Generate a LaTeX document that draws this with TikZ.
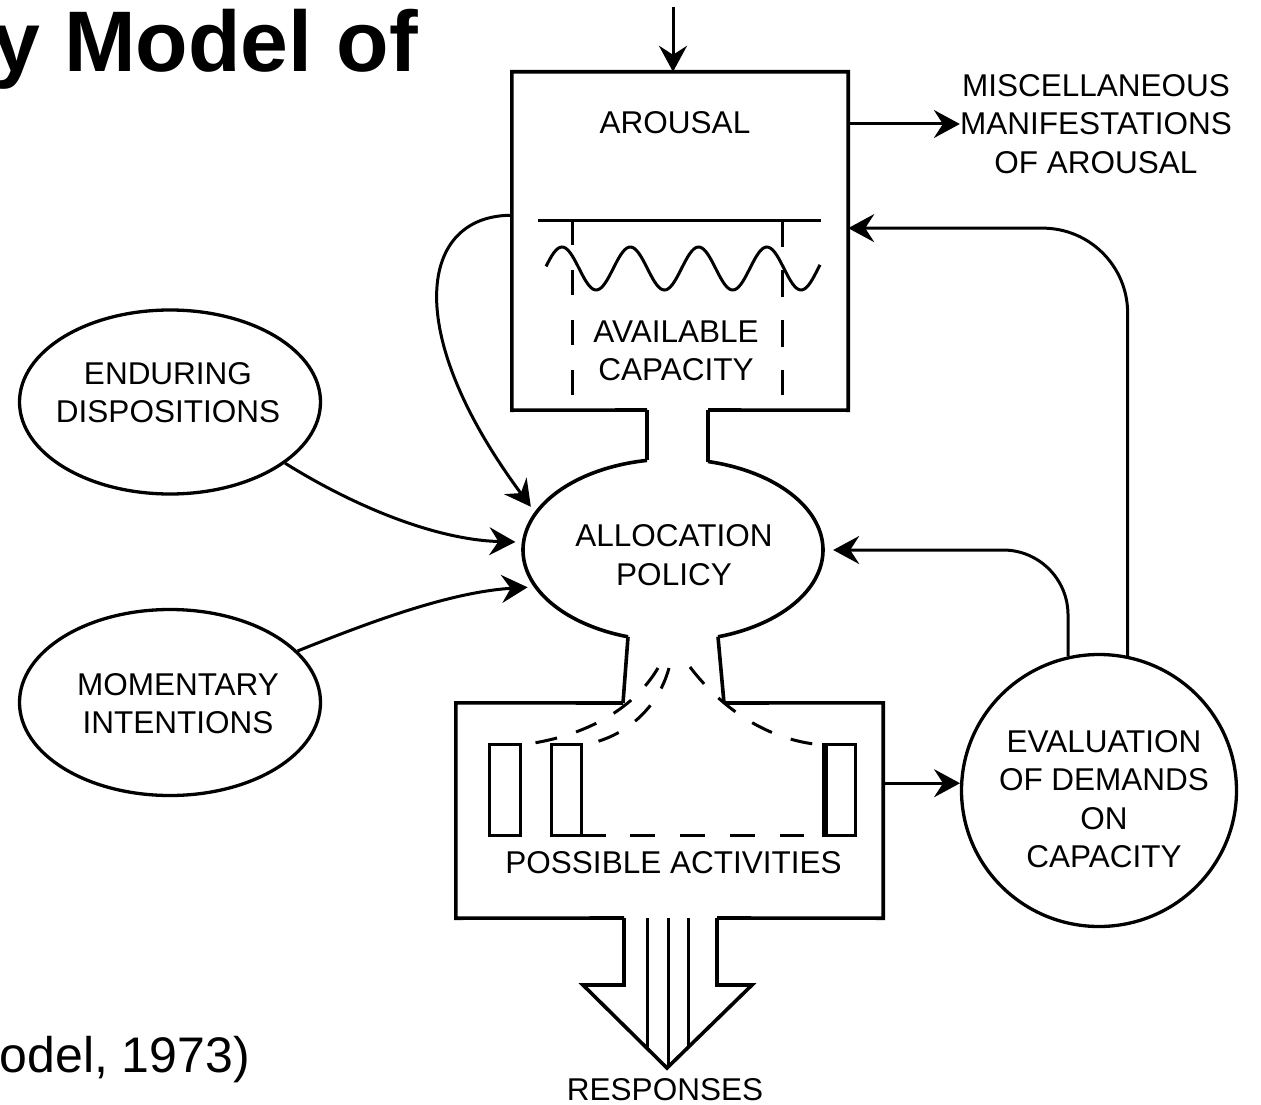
\documentclass[tikz,border=0pt]{standalone}
\usepackage{fontspec}
\setmainfont{Liberation Sans}
\usetikzlibrary{arrows.meta,shapes.geometric,calc}
\newcommand\lblsize{\fontsize{31.5}{38.5}\selectfont}
\begin{document}
\begin{tikzpicture}[x=1pt,y=-1pt,
  lw/.style={line width=3pt},
  boxline/.style={line width=3.6pt, line join=miter},
  ell/.style={draw, ellipse, line width=3.3pt, inner sep=0pt},
  lbl/.style={font=\lblsize, align=center, inner sep=0pt},
  arr/.style={line width=3pt, -{Stealth[length=26pt,width=28pt,inset=9pt]}},
  dsh/.style={line width=3pt, dash pattern=on 22pt off 20pt},
]
\useasboundingbox (0,0) rectangle (1261,1105);
\fill[white] (0,0) rectangle (1261,1105);

% texts outside the diagram
\node[font=\bfseries\fontsize{86}{90}\selectfont, anchor=base east, inner sep=0pt] (title) at (418,72) {y Model of};
\node[font=\fontsize{50}{56}\selectfont, anchor=base east, inner sep=0pt] (cite) at (250,1072) {Model, 1973)};

% arousal box
\node[minimum width=336pt, minimum height=338pt, inner sep=0pt] (arousal) at (680,241) {};
\draw[boxline] (647,410) -- (arousal.south west) -- (arousal.north west) -- (arousal.north east) -- (arousal.south east) -- (708,410);
\node[lbl] (arousaltxt) at (675,122.5) {AROUSAL};
\draw[lw] (538,220) -- (821,220);
\draw[lw, dash pattern=on 25pt off 25pt] (572,220) -- (572,395);
\draw[lw, dash pattern=on 27pt off 23pt] (782,220) -- (782,395);
\draw[lw] plot[domain=546:820, samples=140] (\x, {268.5-21.5*cos(5.2709*(\x-562))});
\node[lbl] (avail) at (676,351) {AVAILABLE\\CAPACITY};

% allocation policy
\node[ellipse, minimum width=300pt, minimum height=182pt, inner sep=0pt] (alloc) at (673,550) {};
\draw[boxline] (647,410) -- (647,460.4);
\draw[boxline] (708,410) -- (708,461.5);
\draw[boxline] plot[domain=107.46:260.02, samples=90] ({673+150*cos(\x)}, {550+91*sin(\x)});
\draw[boxline] plot[domain=-76.5:72.54, samples=90] ({673+150*cos(\x)}, {550+91*sin(\x)});
\draw[boxline] (628,636.8) -- (623,703);
\draw[boxline] (718,636.8) -- (724,703);
\node[lbl] (alloctxt) at (674,555) {ALLOCATION\\POLICY};

% possible activities
\node[minimum width=427pt, minimum height=215pt, inner sep=0pt] (act) at (669.5,810.5) {};
\draw[boxline] (623,703) -- (act.north west) -- (act.south west) -- (624,918);
\draw[boxline] (724,703) -- (act.north east) -- (act.south east) -- (717,918);
\draw[boxline] (624,918) -- (624,985) -- (583,985) -- (667,1068) -- (752,985) -- (717,985) -- (717,918);
\draw[lw] (647,918) -- (647,1047);
\draw[lw] (668,918) -- (668,1066);
\draw[lw] (688,918) -- (688,1046);
\draw[lw] (489,744) rectangle (520,835);
\draw[lw] (551,744) rectangle (581,835);
\draw[lw] (581,835) -- (606,835);
\draw[lw, dash pattern=on 25pt off 25pt] (630,835) -- (804,835);
\draw[lw] (823,744) rectangle (855,835);
\draw[line width=5pt] (825,744) -- (825,835);
\draw[dsh] (658,668) .. controls (632,712) and (580,738) .. (520,745);
\draw[dsh] (669,668) .. controls (657,712) and (620,740) .. (581,745);
\draw[dsh] (690,667) .. controls (715,700) and (760,740) .. (823,745);
\node[lbl] (acttxt) at (673.5,863) {POSSIBLE ACTIVITIES};
\node[lbl] (resp) at (665,1090) {RESPONSES};

% left ellipses
\node[ell, minimum width=301pt, minimum height=184pt] (endur) at (170,402) {};
\node[lbl] (endurtxt) at (168,392.5) {ENDURING\\DISPOSITIONS};
\node[ell, minimum width=301pt, minimum height=186pt] (moment) at (170,702.5) {};
\node[lbl] (momtxt) at (178,703.5) {MOMENTARY\\INTENTIONS};

% evaluation
\node[ell, minimum width=275pt, minimum height=272pt] (eval) at (1099,790.5) {};
\node[lbl] (evaltxt) at (1104,799) {EVALUATION\\OF DEMANDS\\ON\\CAPACITY};

% miscellaneous
\node[lbl] (misc) at (1096,124) {MISCELLANEOUS\\MANIFESTATIONS\\OF AROUSAL};

% connectors
\coordinate (topin) at (673,7);
\draw[arr] (topin) -- (topin |- arousal.north);
\draw[arr] (arousal.east |- misc) -- (misc.west);
\coordinate (arL) at ($(arousal.north west)!0.424!(arousal.south west)$);
\draw[arr, shorten >=8pt] (arL) .. controls (420,215) and (400,330) .. (alloc.165);
\draw[arr, shorten >=8pt] (endur.-28) .. controls (360,510) and (440,540) .. (alloc.177);
\draw[arr, shorten >=8pt] (moment.22) .. controls (370,622) and (450,592) .. (alloc.-165);
\draw[arr, rounded corners=65pt, shorten >=10pt] (eval.103) |- (alloc.east);
\coordinate (arR) at ($(arousal.north east)!0.462!(arousal.south east)$);
\draw[arr, rounded corners=85pt] (eval.78) |- (arR);
\draw[arr] (act.east |- eval.177) -- (eval.177);
\end{tikzpicture}
\end{document}
